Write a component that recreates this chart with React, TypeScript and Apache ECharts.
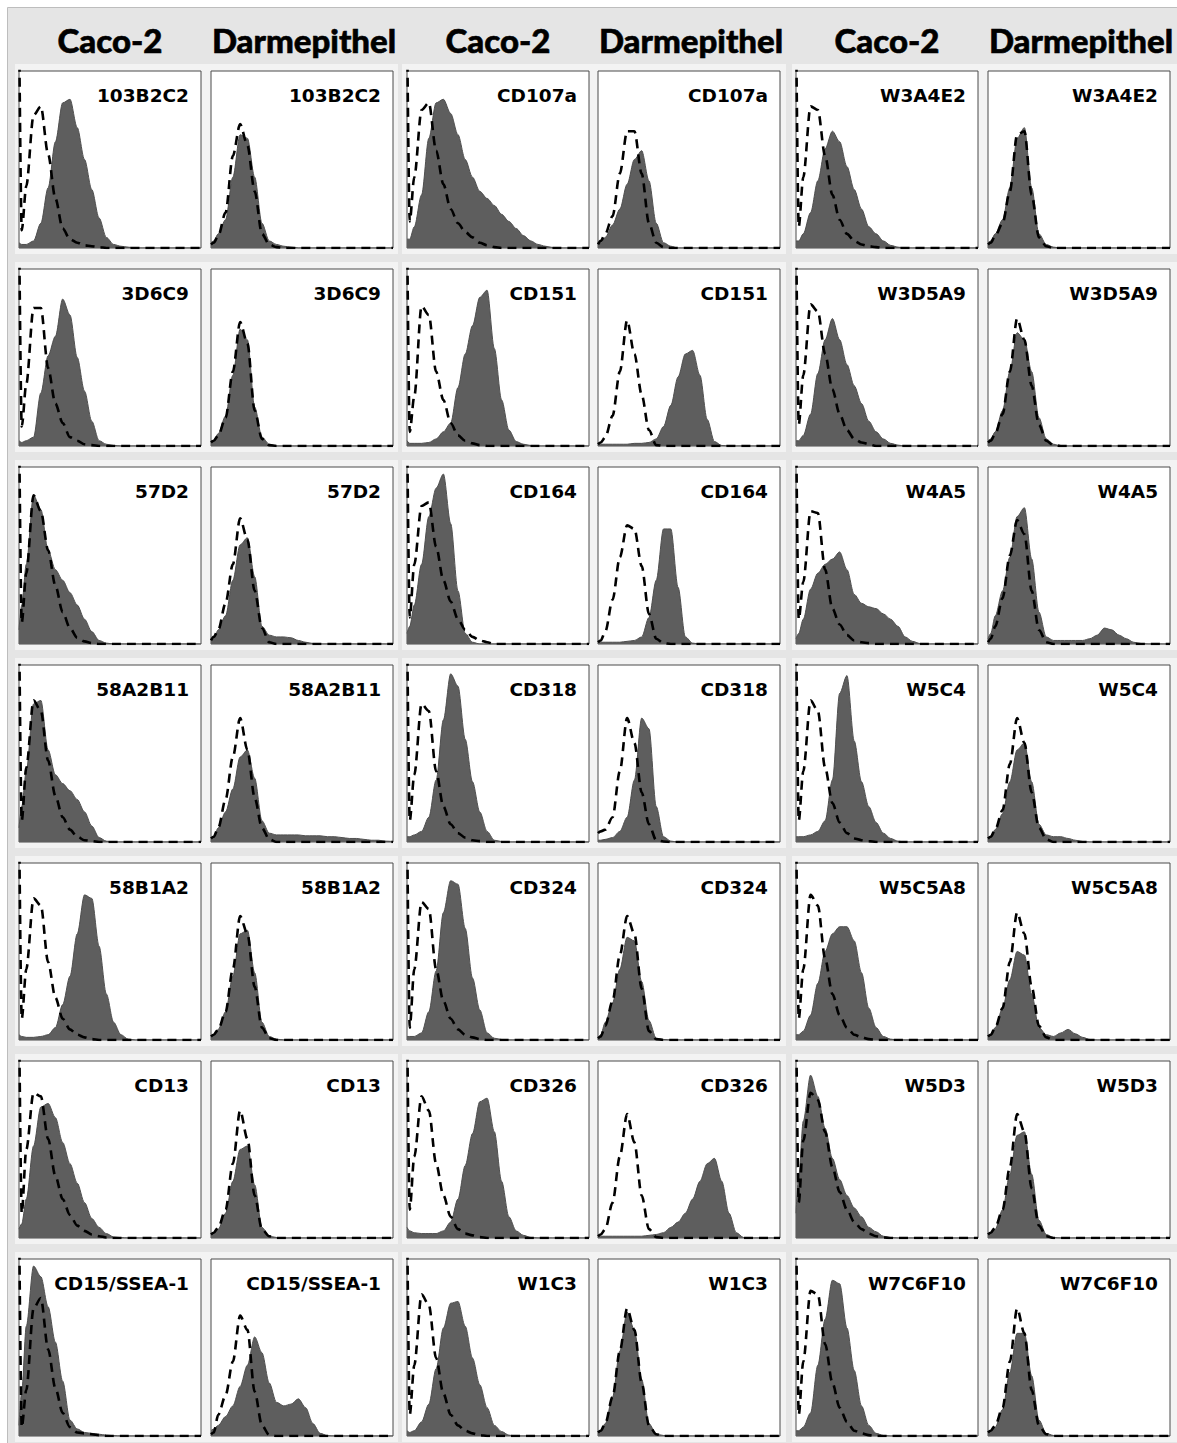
import React, { useEffect, useRef } from "react";
import * as echarts from "echarts";

// Channel positions (percent of the panel's x range) shared by every histogram
const X = [0, 1.5, 4, 8, 12, 16, 20, 24, 28, 32, 36, 40, 44, 48, 52, 56, 60, 64, 68, 72, 76, 80, 84, 88, 92, 96, 100];

const HEADERS = ["Caco-2", "Darmepithel", "Caco-2", "Darmepithel", "Caco-2", "Darmepithel"];

// ---- group 1 ----
const cacoFill_103B2C2 = [3,2,2,4,14,34,60,82,84,68,50,33,17,6,2,1,0.5,0,0,0,0,0,0,0,0,0,0];
const cacoCtrl_103B2C2 = [130,10,35,75,80,53,28,11,5,3,1.5,1,0.5,0,0,0,0,0,0,0,0,0,0,0,0,0,0];
const darmFill_103B2C2 = [3,4,8,16,40,64,62,40,14,4,2,1,0.5,0,0,0,0,0,0,0,0,0,0,0,0,0,0];
const darmCtrl_103B2C2 = [2,3,7,20,52,70,58,32,8,2,0.5,0,0,0,0,0,0,0,0,0,0,0,0,0,0,0,0];

const cacoFill_3D6C9 = [3,2,3,5,30,51,62,83,74,50,31,14,3,1,0.3,0,0,0,0,0,0,0,0,0,0,0,0];
const cacoCtrl_3D6C9 = [130,11,35,78,78,44,24,13,5,3,1,0.5,0,0,0,0,0,0,0,0,0,0,0,0,0,0,0];
const darmFill_3D6C9 = [3,3,7,17,40,66,60,22,5,1,0,0,0,0,0,0,0,0,0,0,0,0,0,0,0,0,0];
const darmCtrl_3D6C9 = [2,3,6,16,42,70,58,20,4,0.5,0,0,0,0,0,0,0,0,0,0,0,0,0,0,0,0,0];

const cacoFill_57D2 = [8,22,45,84,76,53,42,36,29,22,14,7,2,0.5,0,0,0,0,0,0,0,0,0,0,0,0,0];
const cacoCtrl_57D2 = [130,12,40,84,75,53,33,18,9,3.5,1.5,0.5,0,0,0,0,0,0,0,0,0,0,0,0,0,0,0];
const darmFill_57D2 = [2,3,8,16,36,56,60,38,10,5,4,4,3.5,2,1,0.3,0,0,0,0,0,0,0,0,0,0,0];
const darmCtrl_57D2 = [2,4,8,23,45,71,59,30,9,1,0,0,0,0,0,0,0,0,0,0,0,0,0,0,0,0,0];

const cacoFill_58A2B11 = [8,20,40,78,80,52,38,33,29,24,17,9,2.5,0.5,0,0,0,0,0,0,0,0,0,0,0,0,0];
const cacoCtrl_58A2B11 = [130,12,42,80,74,46,26,14,7,3,1,0.5,0,0,0,0,0,0,0,0,0,0,0,0,0,0,0];
const darmFill_58A2B11 = [2,3,8,17,30,48,52,36,12,5,4,4,4,4,3.5,3.5,3.5,3,3,2.5,2,2,1.5,1,1,0.5,0.3];
const darmCtrl_58A2B11 = [2,3,8,24,48,70,52,25,8,1.5,0,0,0,0,0,0,0,0,0,0,0,0,0,0,0,0,0];

const cacoFill_58B1A2 = [3,2,1.5,1.5,2,3,7,20,36,60,82,80,53,26,10,3,0.5,0,0,0,0,0,0,0,0,0,0];
const cacoCtrl_58B1A2 = [130,12,40,80,76,44,24,12,6,3,1.5,0.5,0,0,0,0,0,0,0,0,0,0,0,0,0,0,0];
const darmFill_58B1A2 = [2,3,6,16,36,60,62,38,10,2,0.5,0,0,0,0,0,0,0,0,0,0,0,0,0,0,0,0];
const darmCtrl_58B1A2 = [2,3,6,16,40,70,60,30,7,1,0,0,0,0,0,0,0,0,0,0,0,0,0,0,0,0,0];

const cacoFill_CD13 = [5,8,22,52,74,76,68,54,42,31,20,11,6,2.5,0.6,0.2,0,0,0,0,0,0,0,0,0,0,0];
const cacoCtrl_CD13 = [130,14,50,82,80,56,35,22,13,7,4,2,1,0.3,0,0,0,0,0,0,0,0,0,0,0,0,0];
const darmFill_CD13 = [2,3,5,14,32,50,52,30,6,1,0.3,0,0,0,0,0,0,0,0,0,0,0,0,0,0,0,0];
const darmCtrl_CD13 = [2,3,6,16,42,72,56,24,5,1,0,0,0,0,0,0,0,0,0,0,0,0,0,0,0,0,0];

const cacoFill_CD15 = [6,25,62,96,90,73,53,31,9,4,2,1.5,1,0.5,0.2,0,0,0,0,0,0,0,0,0,0,0,0];
const cacoCtrl_CD15 = [130,5,26,72,78,49,27,13,5,2,1.5,1,0.5,0,0,0,0,0,0,0,0,0,0,0,0,0,0];
const darmFill_CD15 = [3,4,6,11,17,28,40,56,47,30,19,17,18,21,16,7,1.5,0.2,0,0,0,0,0,0,0,0,0];
const darmCtrl_CD15 = [1,2,12,23,42,68,60,25,6,0.5,0,0,0,0,0,0,0,0,0,0,0,0,0,0,0,0,0];

// ---- group 2 ----
const cacoFill_CD107a = [5,5,12,30,62,82,84,76,64,50,40,32,28,24,19,15,11,7,4,2,1,0.3,0,0,0,0,0];
const cacoCtrl_CD107a = [130,15,40,78,82,55,36,22,14,9,6,3,1.5,0.5,0,0,0,0,0,0,0,0,0,0,0,0,0];
const darmFill_CD107a = [3,3,6,13,22,36,50,55,38,14,3,1,0,0,0,0,0,0,0,0,0,0,0,0,0,0,0];
const darmCtrl_CD107a = [2,4,8,18,42,66,66,42,14,3,0.5,0,0,0,0,0,0,0,0,0,0,0,0,0,0,0,0];

const cacoFill_CD151 = [3,1.5,1.5,1.5,2,4,8,13,33,52,68,84,88,55,26,9,2.5,1,0.3,0,0,0,0,0,0,0,0];
const cacoCtrl_CD151 = [130,8,28,79,74,42,26,13,6,3,1.5,0.5,0,0,0,0,0,0,0,0,0,0,0,0,0,0,0];
const darmFill_CD151 = [1,1,1,1,1,1,1.5,1.5,2,4,11,23,39,52,54,40,15,2.5,0.3,0,0,0,0,0,0,0,0];
const darmCtrl_CD151 = [1,2,5,17,42,71,52,29,9,0.5,0,0,0,0,0,0,0,0,0,0,0,0,0,0,0,0,0];

const cacoFill_CD164 = [6,10,22,45,72,88,96,68,30,6,1,0,0,0,0,0,0,0,0,0,0,0,0,0,0,0,0];
const cacoCtrl_CD164 = [130,15,45,78,80,55,36,24,14,8,4,2,1,0,0,0,0,0,0,0,0,0,0,0,0,0,0];
const darmFill_CD164 = [1,1,1,1,1,1.5,2,4,15,36,65,65,32,4,0.5,0,0,0,0,0,0,0,0,0,0,0,0];
const darmCtrl_CD164 = [1,2,7,25,49,67,65,44,17,3,0.5,0,0,0,0,0,0,0,0,0,0,0,0,0,0,0,0];

const cacoFill_CD318 = [3,3,4,6,14,35,69,95,88,58,34,17,6,1,0.3,0,0,0,0,0,0,0,0,0,0,0,0];
const cacoCtrl_CD318 = [130,12,38,78,74,40,20,10,5,2.5,1,0.5,0,0,0,0,0,0,0,0,0,0,0,0,0,0,0];
const darmFill_CD318 = [1,1,1.5,2.5,6,14,35,70,64,20,3,0.5,0,0,0,0,0,0,0,0,0,0,0,0,0,0,0];
const darmCtrl_CD318 = [5,6,7,14,40,70,56,28,10,1,0.3,0,0,0,0,0,0,0,0,0,0,0,0,0,0,0,0];

const cacoFill_CD324 = [2,2,2,4,16,39,72,90,88,63,35,17,4,1,0.3,0,0,0,0,0,0,0,0,0,0,0,0];
const cacoCtrl_CD324 = [130,7,40,78,74,40,22,12,6,3,1.5,0.5,0,0,0,0,0,0,0,0,0,0,0,0,0,0,0];
const darmFill_CD324 = [1,3,10,21,40,58,56,33,11,1,0.3,0,0,0,0,0,0,0,0,0,0,0,0,0,0,0,0];
const darmCtrl_CD324 = [1,2,8,22,48,70,60,29,5,0.5,0,0,0,0,0,0,0,0,0,0,0,0,0,0,0,0,0];

const cacoFill_CD326 = [6,4,3,2.5,2.5,2.5,4,9,22,41,59,77,79,60,32,12,4,1.5,0.3,0,0,0,0,0,0,0,0];
const cacoCtrl_CD326 = [130,16,46,80,72,42,24,12,5,2.5,1.5,0.5,0,0,0,0,0,0,0,0,0,0,0,0,0,0,0];
const darmFill_CD326 = [1,1,1,1,1,1,1,1,1.5,2,3,6,9,14,22,32,42,45,32,14,3,0.3,0,0,0,0,0];
const darmCtrl_CD326 = [1,2,5,20,46,70,54,24,5,0.5,0,0,0,0,0,0,0,0,0,0,0,0,0,0,0,0,0];

const cacoFill_W1C3 = [3,2,3,8,18,38,61,75,76,62,44,29,16,6,2.5,0.5,0,0,0,0,0,0,0,0,0,0,0];
const cacoCtrl_W1C3 = [130,12,40,80,74,44,24,12,6,3,1.5,0.5,0,0,0,0,0,0,0,0,0,0,0,0,0,0,0];
const darmFill_W1C3 = [2,3,7,22,48,70,60,32,7,1,0.3,0,0,0,0,0,0,0,0,0,0,0,0,0,0,0,0];
const darmCtrl_W1C3 = [2,3,7,22,48,72,60,30,6,1,0,0,0,0,0,0,0,0,0,0,0,0,0,0,0,0,0];

// ---- group 3 ----
const cacoFill_W3A4E2 = [4,4,8,20,38,56,66,60,46,33,22,12,8,4,1.5,0.5,0,0,0,0,0,0,0,0,0,0,0];
const cacoCtrl_W3A4E2 = [130,12,40,80,78,52,30,16,8,4,2,1,0.5,0,0,0,0,0,0,0,0,0,0,0,0,0,0];
const darmFill_W3A4E2 = [3,4,8,16,34,62,68,34,8,2,0.5,0,0,0,0,0,0,0,0,0,0,0,0,0,0,0,0];
const darmCtrl_W3A4E2 = [2,3,7,14,32,64,66,30,6,1,0,0,0,0,0,0,0,0,0,0,0,0,0,0,0,0,0];

const cacoFill_W3D5A9 = [3,3,6,18,41,60,72,60,46,34,24,14,8,4,1.5,0.5,0,0,0,0,0,0,0,0,0,0,0];
const cacoCtrl_W3D5A9 = [130,12,40,80,76,52,32,18,9,4,2,1,0,0,0,0,0,0,0,0,0,0,0,0,0,0,0];
const darmFill_W3D5A9 = [3,4,8,20,42,64,60,42,16,4,1,0,0,0,0,0,0,0,0,0,0,0,0,0,0,0,0];
const darmCtrl_W3D5A9 = [2,3,7,18,42,72,60,34,12,3,0.5,0,0,0,0,0,0,0,0,0,0,0,0,0,0,0,0];

const cacoFill_W4A5 = [3,6,14,31,40,45,48,52,42,28,23,21,20,17,14,10,4,1.5,0.3,0,0,0,0,0,0,0,0];
const cacoCtrl_W4A5 = [130,14,35,75,74,42,20,11,5,2,1,0.5,0,0,0,0,0,0,0,0,0,0,0,0,0,0,0];
const darmFill_W4A5 = [3,6,16,30,49,72,77,48,18,4,2,2,2,2,2,3,5,9,8,5,3,1,0.3,0,0,0,0];
const darmCtrl_W4A5 = [1,3,10,26,50,70,62,30,8,1,0,0,0,0,0,0,0,0,0,0,0,0,0,0,0,0,0];

const cacoFill_W5C4 = [3,3,3,4,6,12,35,84,94,57,34,20,11,5,2,0.5,0,0,0,0,0,0,0,0,0,0,0];
const cacoCtrl_W5C4 = [130,12,40,80,74,42,22,11,5,2,1,0.5,0,0,0,0,0,0,0,0,0,0,0,0,0,0,0];
const darmFill_W5C4 = [2,3,7,16,34,52,56,34,10,4,3,3,2,1,0.3,0,0,0,0,0,0,0,0,0,0,0,0];
const darmCtrl_W5C4 = [2,3,7,18,44,70,56,28,8,1.5,0,0,0,0,0,0,0,0,0,0,0,0,0,0,0,0,0];

const cacoFill_W5C5A8 = [3,3,5,14,32,50,60,64,64,56,38,18,7,2,0.5,0,0,0,0,0,0,0,0,0,0,0,0];
const cacoCtrl_W5C5A8 = [130,12,40,82,76,46,26,14,7,3,1.5,0.5,0,0,0,0,0,0,0,0,0,0,0,0,0,0,0];
const darmFill_W5C5A8 = [2,3,7,18,34,50,48,26,7,3,2,4,6,3.5,1.5,0.3,0,0,0,0,0,0,0,0,0,0,0];
const darmCtrl_W5C5A8 = [2,3,7,18,44,72,60,30,8,1.5,0,0,0,0,0,0,0,0,0,0,0,0,0,0,0,0,0];

const cacoFill_W5D3 = [14,35,66,92,80,62,45,33,24,17,12,6,3.5,1,0.3,0,0,0,0,0,0,0,0,0,0,0,0];
const cacoCtrl_W5D3 = [130,20,55,82,78,60,40,26,16,9,5,2.5,1,0.3,0,0,0,0,0,0,0,0,0,0,0,0,0];
const darmFill_W5D3 = [2,3,5,16,36,58,60,36,10,2,0.3,0,0,0,0,0,0,0,0,0,0,0,0,0,0,0,0];
const darmCtrl_W5D3 = [2,3,6,16,40,70,60,28,7,1,0,0,0,0,0,0,0,0,0,0,0,0,0,0,0,0,0];

const cacoFill_W7C6F10 = [3,3,5,13,40,66,88,86,61,37,17,6,1.5,0.3,0,0,0,0,0,0,0,0,0,0,0,0,0];
const cacoCtrl_W7C6F10 = [130,12,42,82,80,52,30,16,8,3,1.5,0.5,0,0,0,0,0,0,0,0,0,0,0,0,0,0,0];
const darmFill_W7C6F10 = [2,3,5,15,36,58,58,34,9,1.5,0.3,0,0,0,0,0,0,0,0,0,0,0,0,0,0,0,0];
const darmCtrl_W7C6F10 = [2,3,6,16,42,72,58,26,6,1,0,0,0,0,0,0,0,0,0,0,0,0,0,0,0,0,0];

// rows of each column group: [label, cacoFill, cacoCtrl, darmFill, darmCtrl]
const GROUPS: [string, number[], number[], number[], number[]][][] = [
  [
    ["103B2C2", cacoFill_103B2C2, cacoCtrl_103B2C2, darmFill_103B2C2, darmCtrl_103B2C2],
    ["3D6C9", cacoFill_3D6C9, cacoCtrl_3D6C9, darmFill_3D6C9, darmCtrl_3D6C9],
    ["57D2", cacoFill_57D2, cacoCtrl_57D2, darmFill_57D2, darmCtrl_57D2],
    ["58A2B11", cacoFill_58A2B11, cacoCtrl_58A2B11, darmFill_58A2B11, darmCtrl_58A2B11],
    ["58B1A2", cacoFill_58B1A2, cacoCtrl_58B1A2, darmFill_58B1A2, darmCtrl_58B1A2],
    ["CD13", cacoFill_CD13, cacoCtrl_CD13, darmFill_CD13, darmCtrl_CD13],
    ["CD15/SSEA-1", cacoFill_CD15, cacoCtrl_CD15, darmFill_CD15, darmCtrl_CD15],
  ],
  [
    ["CD107a", cacoFill_CD107a, cacoCtrl_CD107a, darmFill_CD107a, darmCtrl_CD107a],
    ["CD151", cacoFill_CD151, cacoCtrl_CD151, darmFill_CD151, darmCtrl_CD151],
    ["CD164", cacoFill_CD164, cacoCtrl_CD164, darmFill_CD164, darmCtrl_CD164],
    ["CD318", cacoFill_CD318, cacoCtrl_CD318, darmFill_CD318, darmCtrl_CD318],
    ["CD324", cacoFill_CD324, cacoCtrl_CD324, darmFill_CD324, darmCtrl_CD324],
    ["CD326", cacoFill_CD326, cacoCtrl_CD326, darmFill_CD326, darmCtrl_CD326],
    ["W1C3", cacoFill_W1C3, cacoCtrl_W1C3, darmFill_W1C3, darmCtrl_W1C3],
  ],
  [
    ["W3A4E2", cacoFill_W3A4E2, cacoCtrl_W3A4E2, darmFill_W3A4E2, darmCtrl_W3A4E2],
    ["W3D5A9", cacoFill_W3D5A9, cacoCtrl_W3D5A9, darmFill_W3D5A9, darmCtrl_W3D5A9],
    ["W4A5", cacoFill_W4A5, cacoCtrl_W4A5, darmFill_W4A5, darmCtrl_W4A5],
    ["W5C4", cacoFill_W5C4, cacoCtrl_W5C4, darmFill_W5C4, darmCtrl_W5C4],
    ["W5C5A8", cacoFill_W5C5A8, cacoCtrl_W5C5A8, darmFill_W5C5A8, darmCtrl_W5C5A8],
    ["W5D3", cacoFill_W5D3, cacoCtrl_W5D3, darmFill_W5D3, darmCtrl_W5D3],
    ["W7C6F10", cacoFill_W7C6F10, cacoCtrl_W7C6F10, darmFill_W7C6F10, darmCtrl_W7C6F10],
  ],
];

// layout (pixels)
const COL_LEFT = [19, 211, 407, 598, 796, 988];
const ROW_TOP = [71, 269, 467, 665, 863, 1061, 1259];
const PW = 182;
const PH = 177;
const GROUP_X: [number, number][] = [[15, 398], [402, 786], [792, 1177]];

export default function App() {
  const ref = useRef<HTMLDivElement>(null);
  useEffect(() => {
    if (!ref.current) return;
    const chart = echarts.init(ref.current, null, { renderer: "svg" });
    const grid: any[] = [];
    const xAxis: any[] = [];
    const yAxis: any[] = [];
    const series: any[] = [];
    const elements: any[] = [];

    elements.push({
      type: "rect",
      z: -10,
      silent: true,
      shape: { x: 7.5, y: 7.5, width: 1200, height: 1500 },
      style: { fill: "#e5e5e5", stroke: "#bdbdbd", lineWidth: 1 },
    });
    GROUP_X.forEach(([x0, x1]) => {
      ROW_TOP.forEach((t) => {
        elements.push({
          type: "rect",
          z: -9,
          silent: true,
          shape: { x: x0, y: t - 7, width: x1 - x0, height: PH + 13 },
          style: { fill: "#f3f3f3" },
        });
      });
    });
    HEADERS.forEach((h, c) => {
      elements.push({
        type: "text",
        z: 100,
        silent: true,
        style: {
          text: h,
          x: COL_LEFT[c] + PW / 2 + (c % 2 === 1 ? 2 : 0),
          y: 40,
          align: "center",
          verticalAlign: "middle",
          textAlign: "center",
          textVerticalAlign: "middle",
          font: '900 33px Lato',
          fill: "#000",
          stroke: "#000",
          lineWidth: 0.6,
        },
      });
    });

    let gi = 0;
    GROUPS.forEach((rows, g) => {
      rows.forEach((row, r) => {
        const [label, cf, cc, df, dc] = row;
        const panels: [number, number[], number[]][] = [
          [2 * g, cf, cc],
          [2 * g + 1, df, dc],
        ];
        panels.forEach(([col, fill, ctrl]) => {
          grid.push({
            left: COL_LEFT[col],
            top: ROW_TOP[r],
            width: PW,
            height: PH,
            show: true,
            backgroundColor: "#ffffff",
            borderColor: "#4a4a4a",
            borderWidth: 1,
          });
          xAxis.push({ gridIndex: gi, type: "value", min: 0, max: 100, show: false });
          yAxis.push({ gridIndex: gi, type: "value", min: 0, max: 100, show: false });
          series.push({
            type: "line",
            xAxisIndex: gi,
            yAxisIndex: gi,
            data: X.map((x, k) => [x, fill[k] ?? 0]),
            smooth: 0.3,
            smoothMonotone: "x",
            showSymbol: false,
            symbol: "none",
            silent: true,
            z: 2,
            lineStyle: { color: "#4f4f4f", width: 1 },
            areaStyle: { color: "#5e5e5e", opacity: 1 },
          });
          series.push({
            type: "line",
            xAxisIndex: gi,
            yAxisIndex: gi,
            data: X.map((x, k) => [x, ctrl[k] ?? 0]),
            smooth: 0.3,
            smoothMonotone: "x",
            showSymbol: false,
            symbol: "none",
            silent: true,
            z: 3,
            lineStyle: { color: "#000", width: 2.6, type: [9, 6] },
          });
          elements.push({
            type: "text",
            z: 100,
            silent: true,
            style: {
              text: label,
              x: COL_LEFT[col] + PW - 12,
              y: ROW_TOP[r] + 24,
              align: "right",
              verticalAlign: "middle",
              textAlign: "right",
              textVerticalAlign: "middle",
              font: 'bold 18.5px "DejaVu Sans"',
              fill: "#000",
            },
          });
          gi++;
        });
      });
    });

    chart.setOption({
      animation: false,
      backgroundColor: "#ffffff",
      grid,
      xAxis,
      yAxis,
      series,
      graphic: { elements },
    });
    return () => chart.dispose();
  }, []);
  return (
    <div
      ref={ref}
      style={{ position: "absolute", left: 0, top: 0, width: 1177, height: 1443 }}
    />
  );
}
